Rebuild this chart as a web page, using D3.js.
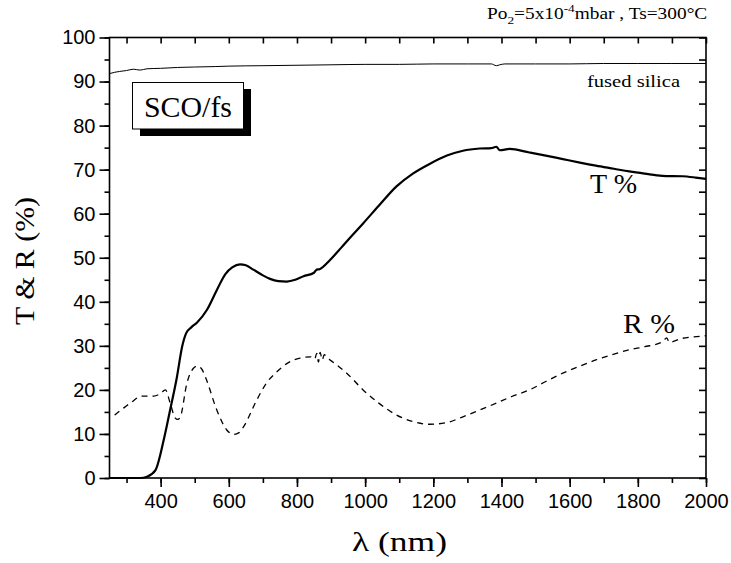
<!DOCTYPE html>
<html>
<head>
<meta charset="utf-8">
<script src="https://cdn.jsdelivr.net/npm/d3@7"></script>
<style>
  body { margin: 0; background: #fff; }
</style>
</head>
<body>
<div id="chart"></div>
<script>
const width = 731;
const height = 563;
const margin = { top: 37.5, right: 25, bottom: 85, left: 109.5 };
const innerWidth = width - margin.left - margin.right;
const innerHeight = height - margin.top - margin.bottom;

// fused silica substrate transmission
const fsWl  = [250, 265, 280, 300, 320, 340, 360, 400, 450, 500, 560, 600, 700, 800, 900, 1000, 1100, 1200, 1300, 1370, 1385, 1395, 1410, 1500, 1600, 1700, 1800, 1900, 2000];
const fsVal = [91.8, 92.1, 92.3, 92.5, 92.8, 92.6, 92.9, 93.0, 93.2, 93.3, 93.4, 93.5, 93.6, 93.7, 93.8, 93.9, 93.9, 94.0, 94.0, 94.0, 93.6, 93.8, 94.0, 94.0, 94.0, 94.1, 94.1, 94.1, 94.1];

// film transmission T %
const tWl  = [250, 300, 340, 360, 385, 409, 428, 448, 463, 475, 490, 507, 536, 565, 590, 610, 633, 650, 672, 700, 721, 745, 770, 795, 819, 850, 858, 866, 897, 930, 955, 994, 1040, 1092, 1140, 1189, 1240, 1287, 1336, 1370, 1385, 1395, 1424, 1482, 1530, 1580, 1630, 1677, 1730, 1775, 1820, 1872, 1931, 1970, 2000];
const tVal = [0, 0, 0, 0.3, 1.8, 8.6, 15.5, 23.0, 29.8, 32.9, 34.2, 35.3, 38.2, 42.7, 46.3, 47.8, 48.5, 48.3, 47.3, 46.0, 45.2, 44.7, 44.6, 45.0, 45.8, 46.6, 47.3, 47.4, 49.5, 52.3, 54.5, 57.8, 61.8, 66.2, 69.1, 71.3, 73.2, 74.3, 74.8, 74.9, 75.2, 74.4, 74.7, 73.9, 73.2, 72.4, 71.6, 70.9, 70.2, 69.6, 69.1, 68.6, 68.5, 68.2, 67.9];

// film reflection R %
const rWl  = [265, 290, 311, 346, 380, 400, 414, 428, 443, 450, 458, 477, 495, 507, 520, 531, 565, 594, 614, 630, 643, 682, 710, 741, 775, 809, 840, 852, 858, 863, 868, 874, 880, 890, 897, 946, 994, 1040, 1092, 1140, 1189, 1240, 1287, 1335, 1385, 1430, 1482, 1530, 1580, 1630, 1677, 1725, 1775, 1820, 1872, 1885, 1892, 1930, 1960, 2000];
const rVal = [14.3, 15.8, 17.0, 18.6, 18.6, 19.2, 20.0, 17.0, 13.6, 13.3, 13.9, 21.5, 24.8, 25.4, 24.8, 23.0, 15.4, 10.9, 9.9, 10.3, 11.6, 17.7, 21.5, 24.1, 26.2, 27.2, 27.5, 27.0, 28.3, 26.3, 28.5, 26.8, 28.0, 27.2, 26.8, 23.8, 20.0, 17.0, 14.3, 12.8, 12.2, 12.6, 13.9, 15.4, 17.0, 18.5, 20.0, 21.9, 23.8, 25.4, 26.8, 28.0, 29.1, 29.8, 30.9, 31.8, 30.8, 31.7, 32.0, 32.3];

const xTicks = [400, 600, 800, 1000, 1200, 1400, 1600, 1800, 2000];
const yTicks = [0, 10, 20, 30, 40, 50, 60, 70, 80, 90, 100];

const svg = d3.select('#chart')
              .append('svg')
              .attr('width', width)
              .attr('height', height);

const g = svg.append('g')
             .attr('transform', `translate(${margin.left},${margin.top})`);

const xScale = d3.scaleLinear().domain([250, 2000]).range([0, innerWidth]);
const yScale = d3.scaleLinear().domain([0, 100]).range([innerHeight, 0]);

const serif = '"Liberation Serif", "Times New Roman", serif';
const sans = '"Liberation Sans", Arial, sans-serif';

// frame
g.append('rect')
 .attr('width', innerWidth)
 .attr('height', innerHeight)
 .attr('fill', 'none')
 .attr('stroke', '#000')
 .attr('stroke-width', 1.6);

// minor ticks, drawn without labels
const xMinor = d3.range(300, 2001, 100);
const yMinor = d3.range(0, 101, 5);

function bare(a) {
  a.select('.domain').remove();
  a.selectAll('.tick text').remove();
}

g.append('g')
 .attr('transform', `translate(0,${innerHeight})`)
 .call(d3.axisBottom(xScale).tickValues(xMinor).tickSize(5))
 .call(bare);

g.append('g')
 .call(d3.axisLeft(yScale).tickValues(yMinor).tickSize(5))
 .call(bare);

// top and right: inward ticks
g.append('g')
 .call(d3.axisTop(xScale).tickValues(xMinor).tickSize(-6))
 .call(bare);

g.append('g')
 .attr('transform', `translate(${innerWidth},0)`)
 .call(d3.axisRight(yScale).tickValues(yMinor).tickSize(-7))
 .call(bare);

// major ticks with labels
g.append('g')
 .attr('transform', `translate(0,${innerHeight})`)
 .call(d3.axisBottom(xScale).tickValues(xTicks).tickSize(9).tickPadding(7).tickFormat(d3.format('d')))
 .call(a => a.select('.domain').remove());

g.append('g')
 .call(d3.axisLeft(yScale).tickValues(yTicks).tickSize(10).tickPadding(4).tickFormat(d3.format('d')))
 .call(a => a.select('.domain').remove());

svg.selectAll('.tick line').attr('stroke-width', 1.6);
svg.selectAll('.tick text')
   .attr('font-family', sans)
   .attr('font-size', 20)
   .attr('fill', '#000');

// lines
const line = d3.line()
  .x(d => xScale(d[0]))
  .y(d => yScale(d[1]))
  .curve(d3.curveMonotoneX);

g.append('path')
 .datum(d3.zip(fsWl, fsVal))
 .attr('fill', 'none')
 .attr('stroke', '#000')
 .attr('stroke-width', 1)
 .attr('d', line);

g.append('path')
 .datum(d3.zip(tWl, tVal))
 .attr('fill', 'none')
 .attr('stroke', '#000')
 .attr('stroke-width', 2.2)
 .attr('d', line);

g.append('path')
 .datum(d3.zip(rWl, rVal))
 .attr('fill', 'none')
 .attr('stroke', '#000')
 .attr('stroke-width', 1.3)
 .attr('stroke-dasharray', '6,5')
 .attr('d', line);

// text helper: serif text stretched to the width seen in the original
function label(x, y, size, len, txt, anchor) {
  return svg.append('text')
    .attr('x', x).attr('y', y)
    .attr('text-anchor', anchor || 'start')
    .attr('textLength', len)
    .attr('lengthAdjust', 'spacingAndGlyphs')
    .style('font-family', serif)
    .style('font-size', size + 'px')
    .text(txt);
}

// axis titles
label(352, 551, 27, 95, 'λ (nm)');

svg.append('text')
   .attr('transform', 'translate(34,325) rotate(-90)')
   .attr('textLength', 128)
   .attr('lengthAdjust', 'spacingAndGlyphs')
   .style('font-family', serif)
   .style('font-size', '27px')
   .text('T & R (%)');

// sample label box with shadow
svg.append('rect')
   .attr('x', 140).attr('y', 89)
   .attr('width', 111).attr('height', 47)
   .attr('fill', '#000');
svg.append('rect')
   .attr('x', 132.5).attr('y', 82.5)
   .attr('width', 111).attr('height', 46.5)
   .attr('fill', '#fff')
   .attr('stroke', '#000')
   .attr('stroke-width', 1);
label(144, 117, 29, 88, 'SCO/fs');

// curve labels
label(587, 87, 16, 93, 'fused silica');
label(590, 193, 27, 47, 'T %');
label(623, 333, 27, 52, 'R %');

// deposition conditions, widened like the original
const note = svg.append('text')
   .attr('transform', 'translate(487,19) scale(1.21,1)')
   .style('font-family', serif)
   .style('font-size', '16px');
note.append('tspan').text('Po');
note.append('tspan').attr('dy', 5).style('font-size', '11px').text('2');
note.append('tspan').attr('dy', -5).text('=5x10');
note.append('tspan').attr('dy', -7).style('font-size', '11px').text('-4');
note.append('tspan').attr('dy', 7).text('mbar , Ts=300°C');
</script>
</body>
</html>
